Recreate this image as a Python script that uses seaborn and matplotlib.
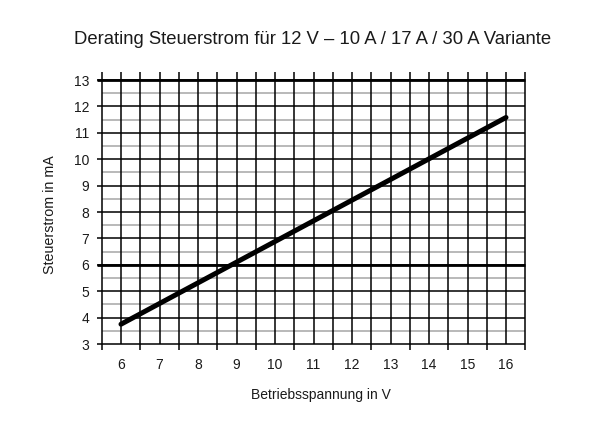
import matplotlib
matplotlib.use("Agg")
import matplotlib.pyplot as plt
import seaborn as sns
import numpy as np
import pandas as pd

# Data
spannung = [6, 16]
steuerstrom = [3.75, 11.58]
x_ticks = [6, 7, 8, 9, 10, 11, 12, 13, 14, 15, 16]
y_ticks = [3, 4, 5, 6, 7, 8, 9, 10, 11, 12, 13]
v_grid = [5.5 + 0.5 * i for i in range(23)]
h_major = [3, 4, 5, 6, 7, 8, 9, 10, 11, 12, 13]
h_minor = [3.5 + i for i in range(10)]
h_bold = [6, 13]

title = "Derating Steuerstrom für 12 V – 10 A / 17 A / 30 A Variante"
xlabel = "Betriebsspannung in V"
ylabel = "Steuerstrom in mA"

sns.set_style("white")
plt.rcParams['font.family'] = ['Liberation Sans', 'DejaVu Sans']

fig = plt.figure(figsize=(5.9, 4.46), dpi=100)
xlim = (5.3, 16.6)
ylim = (2.6, 13.4)
px_per_x = 38.5
px_per_y = 26.4
x0 = 121 + (xlim[0] - 6) * px_per_x
x1 = 121 + (xlim[1] - 6) * px_per_x
ytop = 80 - (ylim[1] - 13) * px_per_y
ybot = 344 + (3 - ylim[0]) * px_per_y
ax = fig.add_axes([x0 / 590, (446 - ybot) / 446, (x1 - x0) / 590, (ybot - ytop) / 446])
ax.set_xlim(*xlim)
ax.set_ylim(*ylim)
for s in ax.spines.values():
    s.set_visible(False)

gray = "#a6a6a6"
# minor horizontal (gray)
ax.hlines(h_minor, 5.5, 16.5, colors=gray, linewidth=1.1, zorder=1)
# major horizontal (black), extending left a bit
ax.hlines(h_major, 5.37, 16.5, colors="black", linewidth=1.1, zorder=2)
ax.hlines(h_bold, 5.37, 16.5, colors="black", linewidth=2.0, zorder=2)
# vertical lines
for v in v_grid:
    lower = 2.77 if (v * 2) % 2 == 1 else 3.0
    ax.vlines(v, lower, 13.32, colors="black", linewidth=1.1, zorder=2)

df = pd.DataFrame({"U": spannung, "I": steuerstrom})
sns.lineplot(data=df, x="U", y="I", ax=ax, color="black", linewidth=3.6, zorder=5,
             solid_capstyle="round")

ax.set_xticks(x_ticks)
ax.set_xticklabels([str(t) for t in x_ticks])
ax.set_yticks(y_ticks)
ax.set_yticklabels([str(t) for t in y_ticks])
ax.tick_params(axis="both", length=0, labelsize=10, colors="#1a1a1a")
ax.tick_params(axis="x", pad=2.5)
ax.tick_params(axis="y", pad=3.5)
ax.set_xlabel("")
ax.set_ylabel("")

fig.text(313 / 590, 1 - 40 / 446, title, ha="center", va="center", fontsize=13.3, color="#1a1a1a")
fig.text(321 / 590, 1 - 395 / 446, xlabel, ha="center", va="center", fontsize=10, color="#1a1a1a")
fig.text(50 / 590, 1 - 215 / 446, ylabel, ha="center", va="center", rotation=90, fontsize=10.3, color="#1a1a1a")

fig.savefig("out.png", dpi=100, facecolor="white")
